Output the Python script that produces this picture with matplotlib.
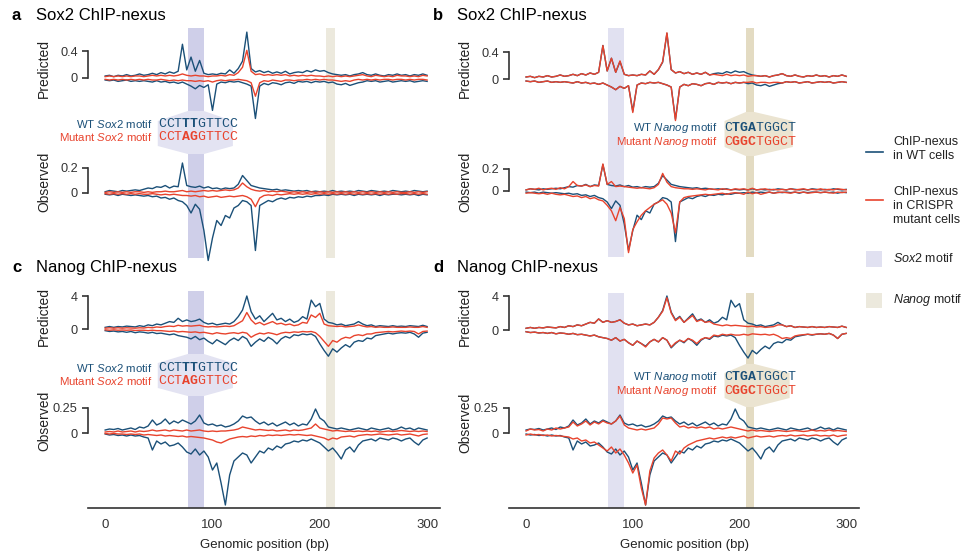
import numpy as np
import matplotlib.pyplot as plt
from matplotlib.patches import Polygon, Rectangle
from matplotlib.lines import Line2D

plt.rcParams['font.family'] = ['Liberation Sans', 'DejaVu Sans']
plt.rcParams['mathtext.fontset'] = 'custom'
plt.rcParams['mathtext.rm'] = 'Liberation Sans'
plt.rcParams['mathtext.it'] = 'Liberation Sans:italic'

##############
# data
##############

# genomic position grid (bp)
position = np.arange(0, 301, 4)

# Sox2 ChIP-nexus, predicted
sox2_pred_wt_pos = [
    0.03, 0.04, 0.02, 0.04, 0.03, 0.05, 0.03, 0.04, 0.06, 0.04,
    0.05, 0.07, 0.05, 0.08, 0.06, 0.09, 0.07, 0.10, 0.50, 0.12,
    0.31, 0.10, 0.26, 0.07, 0.05, 0.06, 0.05, 0.07, 0.06, 0.12,
    0.07, 0.14, 0.25, 0.68, 0.14, 0.09, 0.11, 0.08, 0.10, 0.07,
    0.09, 0.07, 0.10, 0.06, 0.08, 0.09, 0.08, 0.11, 0.09, 0.12,
    0.10, 0.11, 0.08, 0.06, 0.05, 0.04, 0.05, 0.03, 0.05, 0.06,
    0.08, 0.05, 0.04, 0.06, 0.04, 0.03, 0.05, 0.04, 0.06, 0.04,
    0.05, 0.03, 0.05, 0.04, 0.06, 0.04]
sox2_pred_wt_neg = [
    -0.03, -0.04, -0.03, -0.05, -0.04, -0.03, -0.05, -0.04, -0.05, -0.04,
    -0.05, -0.06, -0.04, -0.06, -0.05, -0.07, -0.06, -0.08, -0.06, -0.09,
    -0.12, -0.16, -0.11, -0.14, -0.10, -0.48, -0.09, -0.06, -0.07, -0.05,
    -0.06, -0.05, -0.07, -0.09, -0.12, -0.60, -0.12, -0.08, -0.10, -0.07,
    -0.08, -0.10, -0.07, -0.06, -0.08, -0.05, -0.06, -0.05, -0.07, -0.05,
    -0.06, -0.05, -0.07, -0.06, -0.09, -0.10, -0.08, -0.11, -0.09, -0.07,
    -0.06, -0.04, -0.05, -0.04, -0.06, -0.05, -0.04, -0.06, -0.05, -0.04,
    -0.05, -0.04, -0.06, -0.05, -0.04, -0.05]
sox2_pred_sox2mut_pos = [
    0.02, 0.03, 0.02, 0.03, 0.02, 0.03, 0.02, 0.03, 0.03, 0.02,
    0.03, 0.04, 0.03, 0.04, 0.03, 0.04, 0.03, 0.04, 0.06, 0.04,
    0.03, 0.04, 0.03, 0.03, 0.02, 0.03, 0.03, 0.04, 0.03, 0.05,
    0.04, 0.08, 0.16, 0.41, 0.10, 0.05, 0.06, 0.04, 0.05, 0.04,
    0.05, 0.04, 0.05, 0.03, 0.04, 0.03, 0.04, 0.03, 0.04, 0.03,
    0.03, 0.02, 0.03, 0.02, 0.03, 0.02, 0.03, 0.02, 0.03, 0.04,
    0.05, 0.03, 0.02, 0.04, 0.03, 0.02, 0.03, 0.02, 0.04, 0.03,
    0.03, 0.02, 0.03, 0.02, 0.04, 0.03]
sox2_pred_sox2mut_neg = [
    -0.02, -0.03, -0.02, -0.03, -0.02, -0.03, -0.02, -0.03, -0.02, -0.03,
    -0.02, -0.03, -0.03, -0.02, -0.03, -0.04, -0.03, -0.04, -0.03, -0.04,
    -0.04, -0.05, -0.04, -0.05, -0.04, -0.06, -0.04, -0.03, -0.04, -0.03,
    -0.03, -0.02, -0.03, -0.04, -0.07, -0.27, -0.07, -0.04, -0.05, -0.03,
    -0.04, -0.05, -0.03, -0.03, -0.04, -0.03, -0.03, -0.02, -0.03, -0.02,
    -0.03, -0.02, -0.03, -0.03, -0.04, -0.05, -0.04, -0.05, -0.03, -0.02,
    -0.03, -0.02, -0.03, -0.02, -0.03, -0.02, -0.02, -0.03, -0.02, -0.02,
    -0.03, -0.02, -0.03, -0.02, -0.02, -0.03]
sox2_pred_nanogmut_pos = [
    0.03, 0.04, 0.02, 0.04, 0.03, 0.05, 0.03, 0.04, 0.06, 0.04,
    0.05, 0.07, 0.05, 0.08, 0.06, 0.09, 0.07, 0.10, 0.50, 0.12,
    0.31, 0.10, 0.27, 0.07, 0.05, 0.06, 0.05, 0.07, 0.06, 0.12,
    0.07, 0.14, 0.26, 0.69, 0.14, 0.09, 0.11, 0.08, 0.10, 0.07,
    0.09, 0.07, 0.10, 0.06, 0.07, 0.06, 0.05, 0.07, 0.05, 0.06,
    0.05, 0.06, 0.04, 0.05, 0.05, 0.04, 0.05, 0.03, 0.05, 0.06,
    0.08, 0.05, 0.04, 0.06, 0.04, 0.03, 0.05, 0.04, 0.06, 0.04,
    0.05, 0.03, 0.05, 0.04, 0.06, 0.04]
sox2_pred_nanogmut_neg = [
    -0.03, -0.04, -0.03, -0.05, -0.04, -0.03, -0.05, -0.04, -0.05, -0.04,
    -0.05, -0.06, -0.04, -0.06, -0.05, -0.07, -0.06, -0.08, -0.06, -0.09,
    -0.12, -0.16, -0.11, -0.14, -0.10, -0.50, -0.09, -0.06, -0.07, -0.05,
    -0.06, -0.05, -0.07, -0.09, -0.12, -0.62, -0.12, -0.08, -0.10, -0.07,
    -0.08, -0.10, -0.07, -0.06, -0.08, -0.05, -0.06, -0.05, -0.07, -0.05,
    -0.06, -0.05, -0.05, -0.04, -0.06, -0.05, -0.05, -0.06, -0.05, -0.05,
    -0.06, -0.04, -0.05, -0.04, -0.06, -0.05, -0.04, -0.06, -0.05, -0.04,
    -0.05, -0.04, -0.06, -0.05, -0.04, -0.05]

# Sox2 ChIP-nexus, observed
sox2_obs_wt_pos = [
    0.01, 0.02, 0.015, 0.01, 0.02, 0.015, 0.02, 0.025, 0.02, 0.03,
    0.04, 0.035, 0.05, 0.045, 0.06, 0.04, 0.055, 0.05, 0.24, 0.06,
    0.05, 0.045, 0.055, 0.04, 0.05, 0.035, 0.04, 0.03, 0.04, 0.035,
    0.04, 0.07, 0.14, 0.10, 0.06, 0.05, 0.04, 0.035, 0.03, 0.025,
    0.03, 0.02, 0.025, 0.02, 0.015, 0.02, 0.015, 0.02, 0.01, 0.015,
    0.01, 0.015, 0.01, 0.02, 0.01, 0.015, 0.01, 0.015, 0.01, 0.02,
    0.015, 0.01, 0.02, 0.015, 0.01, 0.015, 0.01, 0.02, 0.015, 0.01,
    0.015, 0.01, 0.02, 0.015, 0.01, 0.015]
sox2_obs_wt_neg = [
    -0.01, -0.015, -0.01, -0.02, -0.01, -0.015, -0.02, -0.015, -0.02, -0.025,
    -0.02, -0.03, -0.025, -0.04, -0.035, -0.05, -0.04, -0.06, -0.07, -0.10,
    -0.16, -0.09, -0.13, -0.30, -0.54, -0.36, -0.22, -0.26, -0.18, -0.20,
    -0.12, -0.10, -0.06, -0.07, -0.10, -0.46, -0.10, -0.08, -0.06, -0.07,
    -0.05, -0.04, -0.05, -0.035, -0.04, -0.03, -0.035, -0.025, -0.03, -0.02,
    -0.02, -0.015, -0.02, -0.01, -0.015, -0.01, -0.015, -0.01, -0.02, -0.01,
    -0.015, -0.01, -0.015, -0.01, -0.02, -0.01, -0.015, -0.01, -0.01, -0.015,
    -0.01, -0.015, -0.01, -0.02, -0.01, -0.015]
sox2_obs_sox2mut_pos = [
    0.005, 0.01, 0.005, 0.01, 0.005, 0.01, 0.005, 0.01, 0.01, 0.005,
    0.01, 0.005, 0.01, 0.01, 0.015, 0.01, 0.01, 0.015, 0.02, 0.01,
    0.015, 0.01, 0.015, 0.02, 0.015, 0.02, 0.015, 0.02, 0.025, 0.02,
    0.025, 0.04, 0.08, 0.05, 0.03, 0.02, 0.015, 0.02, 0.01, 0.015,
    0.01, 0.015, 0.01, 0.005, 0.01, 0.005, 0.01, 0.005, 0.01, 0.005,
    0.01, 0.005, 0.01, 0.005, 0.01, 0.005, 0.01, 0.005, 0.01, 0.005,
    0.01, 0.005, 0.01, 0.005, 0.01, 0.005, 0.01, 0.005, 0.01, 0.005,
    0.005, 0.01, 0.005, 0.01, 0.005, 0.01]
sox2_obs_sox2mut_neg = [
    -0.005, -0.01, -0.005, -0.01, -0.005, -0.01, -0.005, -0.01, -0.005, -0.01,
    -0.01, -0.005, -0.01, -0.015, -0.01, -0.015, -0.01, -0.015, -0.02, -0.02,
    -0.025, -0.02, -0.03, -0.025, -0.035, -0.03, -0.025, -0.035, -0.03, -0.025,
    -0.03, -0.025, -0.02, -0.03, -0.05, -0.11, -0.04, -0.02, -0.015, -0.02,
    -0.01, -0.015, -0.01, -0.005, -0.01, -0.005, -0.01, -0.005, -0.01, -0.005,
    -0.01, -0.005, -0.01, -0.005, -0.01, -0.005, -0.01, -0.005, -0.01, -0.005,
    -0.01, -0.005, -0.01, -0.005, -0.01, -0.005, -0.01, -0.005, -0.01, -0.005,
    -0.005, -0.01, -0.005, -0.01, -0.005, -0.01]
sox2_obs_nanogmut_pos = [
    0.01, 0.02, 0.015, 0.025, 0.01, 0.02, 0.025, 0.015, 0.03, 0.02,
    0.04, 0.086, 0.05, 0.045, 0.055, 0.04, 0.05, 0.045, 0.246, 0.06,
    0.086, 0.04, 0.045, 0.04, 0.035, 0.03, 0.025, 0.03, 0.025, 0.02,
    0.03, 0.06, 0.16, 0.08, 0.04, 0.03, 0.025, 0.02, 0.02, 0.015,
    0.02, 0.015, 0.01, 0.02, 0.015, 0.01, 0.02, 0.015, 0.01, 0.02,
    0.015, 0.02, 0.01, 0.025, 0.01, 0.015, 0.02, 0.01, 0.015, 0.01,
    0.015, 0.01, 0.02, 0.01, 0.015, 0.02, 0.01, 0.015, 0.01, 0.02,
    0.01, 0.015, 0.01, 0.02, 0.015, 0.01]
sox2_obs_nanogmut_neg = [
    -0.02, -0.015, -0.02, -0.025, -0.02, -0.03, -0.02, -0.03, -0.035, -0.03,
    -0.04, -0.05, -0.045, -0.06, -0.05, -0.07, -0.06, -0.08, -0.09, -0.13,
    -0.18, -0.27, -0.15, -0.25, -0.56, -0.35, -0.28, -0.22, -0.18, -0.15,
    -0.12, -0.10, -0.08, -0.12, -0.20, -0.38, -0.10, -0.06, -0.05, -0.045,
    -0.04, -0.035, -0.03, -0.035, -0.03, -0.025, -0.02, -0.03, -0.02, -0.015,
    -0.02, -0.03, -0.01, -0.025, -0.015, -0.03, -0.02, -0.01, -0.02, -0.015,
    -0.01, -0.015, -0.02, -0.01, -0.015, -0.01, -0.02, -0.015, -0.01, -0.015,
    -0.01, -0.015, -0.02, -0.01, -0.015, -0.01]

# Nanog ChIP-nexus, predicted
nanog_pred_wt_pos = [
    0.2, 0.3, 0.2, 0.3, 0.25, 0.35, 0.3, 0.25, 0.4, 0.3,
    0.5, 0.4, 0.6, 0.5, 0.7, 0.9, 0.8, 1.3, 0.9, 1.1,
    0.9, 1.0, 1.2, 0.8, 0.6, 0.7, 0.5, 0.6, 0.7, 0.6,
    0.9, 1.5, 2.3, 4.0, 2.1, 1.2, 1.6, 0.9, 1.4, 1.9,
    1.1, 1.3, 0.9, 1.2, 0.8, 1.0, 1.5, 1.2, 3.5, 2.7,
    3.1, 1.2, 0.8, 0.7, 0.5, 0.6, 0.4, 0.5, 0.6, 0.9,
    0.6, 0.4, 0.5, 0.3, 0.4, 0.35, 0.3, 0.4, 0.3, 0.35,
    0.3, 0.4, 0.35, 0.3, 0.45, 0.3]
nanog_pred_wt_neg = [
    -0.2, -0.3, -0.25, -0.35, -0.3, -0.4, -0.3, -0.45, -0.35, -0.4,
    -0.5, -0.4, -0.55, -0.5, -0.6, -0.7, -0.6, -0.8, -0.9, -1.0,
    -1.2, -0.9, -1.3, -1.1, -1.5, -1.8, -1.3, -1.6, -1.9, -1.4,
    -1.1, -1.4, -0.9, -1.2, -2.1, -1.6, -1.2, -1.5, -1.0, -1.3,
    -1.8, -1.2, -0.9, -1.1, -0.7, -0.8, -0.6, -0.7, -0.6, -0.9,
    -1.8, -2.6, -3.3, -2.4, -2.8, -2.3, -1.9, -2.2, -1.6, -1.4,
    -1.5, -1.1, -1.2, -0.8, -0.7, -0.6, -0.5, -0.6, -0.5, -0.45,
    -0.5, -0.4, -0.6, -1.0, -0.5, -0.4]
nanog_pred_sox2mut_pos = [
    0.1, 0.15, 0.1, 0.15, 0.1, 0.15, 0.12, 0.1, 0.15, 0.12,
    0.2, 0.15, 0.25, 0.2, 0.3, 0.35, 0.3, 0.45, 0.35, 0.4,
    0.35, 0.4, 0.45, 0.3, 0.25, 0.3, 0.25, 0.3, 0.35, 0.3,
    0.4, 0.7, 1.0, 2.0, 1.1, 0.6, 0.8, 0.5, 0.7, 0.9,
    0.6, 0.7, 0.5, 0.6, 0.4, 0.5, 0.8, 0.7, 1.7, 1.4,
    1.9, 0.6, 0.4, 0.35, 0.3, 0.35, 0.25, 0.3, 0.35, 0.5,
    0.35, 0.25, 0.3, 0.2, 0.25, 0.2, 0.2, 0.25, 0.2, 0.2,
    0.2, 0.25, 0.2, 0.2, 0.3, 0.2]
nanog_pred_sox2mut_neg = [
    -0.1, -0.15, -0.1, -0.15, -0.12, -0.15, -0.12, -0.18, -0.15, -0.15,
    -0.2, -0.15, -0.2, -0.2, -0.25, -0.3, -0.25, -0.35, -0.3, -0.35,
    -0.4, -0.35, -0.45, -0.4, -0.5, -0.6, -0.45, -0.55, -0.6, -0.5,
    -0.45, -0.55, -0.4, -0.5, -1.0, -0.7, -0.5, -0.6, -0.45, -0.55,
    -0.7, -0.5, -0.4, -0.45, -0.35, -0.4, -0.3, -0.35, -0.3, -0.45,
    -0.9, -1.5, -2.1, -1.4, -1.6, -1.2, -1.0, -1.1, -0.8, -0.7,
    -0.8, -0.6, -0.6, -0.45, -0.4, -0.35, -0.3, -0.35, -0.3, -0.25,
    -0.3, -0.25, -0.3, -0.6, -0.3, -0.25]
nanog_pred_nanogmut_pos = [
    0.2, 0.3, 0.2, 0.3, 0.25, 0.35, 0.3, 0.25, 0.4, 0.3,
    0.5, 0.4, 0.6, 0.5, 0.7, 0.9, 0.8, 1.3, 0.9, 1.1,
    0.9, 1.0, 1.2, 0.8, 0.6, 0.7, 0.5, 0.6, 0.7, 0.6,
    0.9, 1.5, 2.2, 3.8, 2.0, 1.1, 1.5, 0.9, 1.3, 1.7,
    1.0, 1.2, 0.9, 1.0, 0.7, 0.6, 0.5, 0.6, 0.5, 0.55,
    0.5, 0.45, 0.4, 0.45, 0.35, 0.4, 0.3, 0.35, 0.4, 0.6,
    0.6, 0.4, 0.5, 0.3, 0.4, 0.35, 0.3, 0.4, 0.3, 0.35,
    0.3, 0.4, 0.35, 0.3, 0.45, 0.3]
nanog_pred_nanogmut_neg = [
    -0.2, -0.3, -0.25, -0.35, -0.3, -0.4, -0.3, -0.45, -0.35, -0.4,
    -0.5, -0.4, -0.55, -0.5, -0.6, -0.7, -0.6, -0.8, -0.9, -1.0,
    -1.2, -0.9, -1.3, -1.1, -1.5, -1.8, -1.3, -1.6, -2.0, -1.4,
    -1.1, -1.4, -0.9, -1.2, -2.0, -1.5, -1.2, -1.4, -1.0, -1.2,
    -1.6, -1.1, -0.9, -1.0, -0.6, -0.7, -0.5, -0.6, -0.5, -0.6,
    -0.6, -0.5, -0.6, -0.45, -0.5, -0.55, -0.5, -0.6, -0.5, -0.7,
    -1.0, -0.9, -1.0, -0.7, -0.6, -0.55, -0.5, -0.55, -0.5, -0.45,
    -0.5, -0.4, -0.6, -1.0, -0.5, -0.4]

# Nanog ChIP-nexus, observed
nanog_obs_wt_pos = [
    0.03, 0.04, 0.035, 0.045, 0.03, 0.04, 0.05, 0.035, 0.06, 0.05,
    0.07, 0.13, 0.08, 0.10, 0.14, 0.09, 0.12, 0.10, 0.13, 0.11,
    0.09, 0.12, 0.18, 0.10, 0.08, 0.09, 0.07, 0.08, 0.06, 0.07,
    0.09, 0.12, 0.17, 0.15, 0.16, 0.12, 0.09, 0.11, 0.08, 0.10,
    0.07, 0.09, 0.11, 0.08, 0.10, 0.07, 0.09, 0.08, 0.14, 0.24,
    0.15, 0.12, 0.06, 0.05, 0.04, 0.05, 0.04, 0.03, 0.04, 0.05,
    0.04, 0.03, 0.05, 0.04, 0.03, 0.04, 0.05, 0.03, 0.04, 0.06,
    0.04, 0.05, 0.03, 0.05, 0.04, 0.03]
nanog_obs_wt_neg = [
    -0.01, -0.02, -0.015, -0.025, -0.02, -0.03, -0.02, -0.03, -0.025, -0.04,
    -0.05, -0.17, -0.08, -0.11, -0.09, -0.13, -0.12, -0.10, -0.14, -0.19,
    -0.21, -0.16, -0.22, -0.18, -0.24, -0.37, -0.30, -0.50, -0.72, -0.42,
    -0.28, -0.24, -0.20, -0.22, -0.30, -0.24, -0.18, -0.20, -0.15, -0.17,
    -0.13, -0.15, -0.11, -0.10, -0.08, -0.09, -0.07, -0.08, -0.06, -0.08,
    -0.10, -0.14, -0.18, -0.15, -0.20, -0.26, -0.17, -0.14, -0.19, -0.12,
    -0.08, -0.07, -0.06, -0.08, -0.05, -0.06, -0.07, -0.05, -0.06, -0.08,
    -0.06, -0.05, -0.09, -0.12, -0.07, -0.05]
nanog_obs_sox2mut_pos = [
    0.01, 0.015, 0.01, 0.02, 0.01, 0.015, 0.02, 0.01, 0.02, 0.015,
    0.02, 0.03, 0.02, 0.025, 0.03, 0.02, 0.03, 0.025, 0.02, 0.03,
    0.02, 0.025, 0.03, 0.02, 0.015, 0.02, 0.015, 0.02, 0.02, 0.025,
    0.03, 0.04, 0.06, 0.05, 0.04, 0.03, 0.035, 0.03, 0.025, 0.03,
    0.02, 0.025, 0.03, 0.02, 0.03, 0.025, 0.03, 0.04, 0.05, 0.09,
    0.05, 0.04, 0.03, 0.02, 0.025, 0.02, 0.015, 0.02, 0.015, 0.02,
    0.015, 0.02, 0.015, 0.02, 0.01, 0.015, 0.02, 0.015, 0.02, 0.025,
    0.02, 0.015, 0.02, 0.015, 0.02, 0.015]
nanog_obs_sox2mut_neg = [
    -0.005, -0.01, -0.005, -0.01, -0.01, -0.015, -0.01, -0.015, -0.01, -0.02,
    -0.015, -0.02, -0.025, -0.02, -0.03, -0.025, -0.03, -0.035, -0.03, -0.04,
    -0.035, -0.04, -0.045, -0.05, -0.06, -0.07, -0.09, -0.10, -0.08, -0.06,
    -0.05, -0.04, -0.035, -0.04, -0.03, -0.035, -0.025, -0.03, -0.02, -0.025,
    -0.02, -0.025, -0.02, -0.015, -0.02, -0.015, -0.02, -0.025, -0.02, -0.03,
    -0.04, -0.05, -0.07, -0.05, -0.06, -0.04, -0.035, -0.03, -0.04, -0.025,
    -0.02, -0.015, -0.02, -0.015, -0.01, -0.015, -0.02, -0.015, -0.01, -0.02,
    -0.015, -0.01, -0.02, -0.03, -0.015, -0.01]
nanog_obs_nanogmut_pos = [
    0.02, 0.04, 0.03, 0.035, 0.02, 0.04, 0.03, 0.05, 0.04, 0.05,
    0.06, 0.11, 0.07, 0.09, 0.12, 0.08, 0.11, 0.09, 0.12, 0.10,
    0.09, 0.12, 0.17, 0.08, 0.05, 0.04, 0.03, 0.04, 0.03, 0.04,
    0.05, 0.09, 0.15, 0.14, 0.15, 0.10, 0.06, 0.07, 0.05, 0.06,
    0.05, 0.06, 0.05, 0.06, 0.04, 0.05, 0.04, 0.05, 0.06, 0.05,
    0.04, 0.03, 0.02, 0.03, 0.02, 0.025, 0.02, 0.015, 0.02, 0.025,
    0.02, 0.015, 0.02, 0.025, 0.02, 0.015, 0.02, 0.03, 0.02, 0.025,
    0.02, 0.03, 0.02, 0.025, 0.02, 0.015]
nanog_obs_nanogmut_neg = [
    -0.02, -0.01, -0.02, -0.015, -0.025, -0.02, -0.03, -0.025, -0.03, -0.035,
    -0.04, -0.06, -0.05, -0.08, -0.07, -0.10, -0.09, -0.12, -0.15, -0.18,
    -0.14, -0.20, -0.16, -0.22, -0.30, -0.40, -0.32, -0.55, -0.72, -0.38,
    -0.25, -0.20, -0.17, -0.22, -0.28, -0.18, -0.21, -0.15, -0.12, -0.10,
    -0.08, -0.07, -0.06, -0.05, -0.06, -0.05, -0.04, -0.05, -0.04, -0.05,
    -0.04, -0.03, -0.05, -0.04, -0.03, -0.04, -0.035, -0.03, -0.04, -0.03,
    -0.025, -0.03, -0.02, -0.03, -0.025, -0.02, -0.03, -0.025, -0.02, -0.03,
    -0.025, -0.03, -0.02, -0.035, -0.025, -0.02]

# motifs (bp)
sox2_motif = (77, 92)
nanog_motif = (206, 214)

# motif sequences: (text, bold positions)
sox2_wt_seq = ('CCTTTGTTCC', [3, 4])
sox2_mut_seq = ('CCTAGGTTCC', [3, 4])
nanog_wt_seq = ('CTGATGGCT', [1, 2, 3])
nanog_mut_seq = ('CGGCTGGCT', [1, 2, 3])

##############
# style
##############

BLUE = '#1b5078'
RED = '#e8432d'
AXC = '#333333'
SOX2_STRONG = '#cfcfe9'
SOX2_LIGHT = '#e1e1f1'
SOX2_HEX = '#e3e3f2'
NANOG_STRONG = '#e3dbc2'
NANOG_LIGHT = '#ece9dd'
NANOG_HEX = '#ebe4d1'

W, H = 969, 557
fig = plt.figure(figsize=(W / 100, H / 100), dpi=100)

COLS = [(88, 440), (509, 859)]
XLIM = (-16, 312)


def box(x0, y0, x1, y1):
    return [x0 / W, 1 - y1 / H, (x1 - x0) / W, (y1 - y0) / H]


def fx(px):
    return px / W


def fy(py):
    return 1 - py / H


def track(col, top, bot, zero, ppu, ticks, labels):
    x0, x1 = COLS[col]
    ax = fig.add_axes(box(x0, top, x1, bot))
    ax.set_xlim(*XLIM)
    ax.set_ylim((zero - bot) / ppu, (zero - top) / ppu)
    ax.patch.set_alpha(0)
    for s in ['top', 'right', 'bottom']:
        ax.spines[s].set_visible(False)
    ax.spines['left'].set_linewidth(1.2)
    ax.spines['left'].set_color(AXC)
    ax.spines['left'].set_bounds(ticks[0], ticks[-1])
    ax.set_yticks(ticks)
    ax.set_yticklabels(labels)
    ax.tick_params(axis='y', direction='out', length=4.3, width=1.2,
                   color=AXC, labelsize=9.2, labelcolor=AXC, pad=3)
    ax.set_xticks([])
    return ax


def draw_lines(ax, wt_pos, wt_neg, mut_pos, mut_neg):
    ax.plot(position, wt_pos, color=BLUE, lw=1.0, clip_on=False)
    ax.plot(position, wt_neg, color=BLUE, lw=1.0, clip_on=False)
    ax.plot(position, mut_pos, color=RED, lw=1.0, clip_on=False)
    ax.plot(position, mut_neg, color=RED, lw=1.0, clip_on=False)


def seq_text(px, py, seq, color):
    letters, bold = seq
    adv = 0.6 * 9.5 * 100 / 72
    for i, ch in enumerate(letters):
        fig.text(fx(px + i * adv), fy(py), ch, family='Liberation Mono',
                 fontsize=9.5, color=color, ha='left', va='center',
                 weight='bold' if i in bold else 'normal')


panels = [
    dict(letter='a', title='Sox2 ChIP-nexus', col=0, mutated='sox2',
         title_y=15, band=(28, 258),
         pred=(28, 125, 78, 67.5, [0, 0.4], ['0', '0.4']),
         obs=(150, 262, 193, 125, [0, 0.2], ['0', '0.2']),
         pred_data=(sox2_pred_wt_pos, sox2_pred_wt_neg,
                    sox2_pred_sox2mut_pos, sox2_pred_sox2mut_neg),
         obs_data=(sox2_obs_wt_pos, sox2_obs_wt_neg,
                   sox2_obs_sox2mut_pos, sox2_obs_sox2mut_neg),
         hexy=(111, 121, 146, 154), hexx=(49, 119), rows=(124, 137),
         label_x=153, seq_x=158, ylab=(68, 182)),
    dict(letter='b', title='Sox2 ChIP-nexus', col=1, mutated='nanog',
         title_y=15, band=(28, 257),
         pred=(28, 125, 79, 67, [0, 0.4], ['0', '0.4']),
         obs=(150, 262, 191, 110, [0, 0.2], ['0', '0.2']),
         pred_data=(sox2_pred_wt_pos, sox2_pred_wt_neg,
                    sox2_pred_nanogmut_pos, sox2_pred_nanogmut_neg),
         obs_data=(sox2_obs_wt_pos, sox2_obs_wt_neg,
                   sox2_obs_nanogmut_pos, sox2_obs_nanogmut_neg),
         hexy=(112, 121, 147, 156), hexx=(186, 250), rows=(128, 142),
         label_x=717, seq_x=724, ylab=(68, 182)),
    dict(letter='c', title='Nanog ChIP-nexus', col=0, mutated='sox2',
         title_y=267, band=(291, 508),
         pred=(288, 362, 329, 8.25, [0, 4], ['0', '4']),
         obs=(395, 508, 433, 100, [0, 0.25], ['0', '0.25']),
         pred_data=(nanog_pred_wt_pos, nanog_pred_wt_neg,
                    nanog_pred_sox2mut_pos, nanog_pred_sox2mut_neg),
         obs_data=(nanog_obs_wt_pos, nanog_obs_wt_neg,
                   nanog_obs_sox2mut_pos, nanog_obs_sox2mut_neg),
         hexy=(354, 363, 388, 396), hexx=(49, 119), rows=(368, 381),
         label_x=153, seq_x=158, ylab=(316, 421)),
    dict(letter='d', title='Nanog ChIP-nexus', col=1, mutated='nanog',
         title_y=267, band=(293, 508),
         pred=(288, 362, 330, 8.5, [0, 4], ['0', '4']),
         obs=(395, 508, 433, 100, [0, 0.25], ['0', '0.25']),
         pred_data=(nanog_pred_wt_pos, nanog_pred_wt_neg,
                    nanog_pred_nanogmut_pos, nanog_pred_nanogmut_neg),
         obs_data=(nanog_obs_wt_pos, nanog_obs_wt_neg,
                   nanog_obs_nanogmut_pos, nanog_obs_nanogmut_neg),
         hexy=(364, 373, 398, 407), hexx=(186, 247), rows=(377, 391),
         label_x=717, seq_x=724, ylab=(317, 423)),
]

for p in panels:
    x0, x1 = COLS[p['col']]
    sox2_mut = p['mutated'] == 'sox2'

    # motif bands + hexagon around the motif sequence
    bg = fig.add_axes(box(x0, p['band'][0], x1, p['band'][1]))
    bg.set_xlim(*XLIM)
    bg.set_ylim(p['band'][1], p['band'][0])
    bg.axis('off')
    bg.axvspan(*sox2_motif, color=SOX2_STRONG if sox2_mut else SOX2_LIGHT, lw=0)
    bg.axvspan(*nanog_motif, color=NANOG_LIGHT if sox2_mut else NANOG_STRONG, lw=0)
    ml, mr = sox2_motif if sox2_mut else nanog_motif
    hl, hr = p['hexx']
    y0, y1, y2, y3 = p['hexy']
    hexagon = Polygon([(ml, y0), (hl, y1), (hl, y2), (ml, y3),
                       (mr, y3), (hr, y2), (hr, y1), (mr, y0)],
                      closed=True, color=SOX2_HEX if sox2_mut else NANOG_HEX, lw=0)
    bg.add_patch(hexagon)

    # tracks
    ax_p = track(p['col'], *p['pred'])
    draw_lines(ax_p, *p['pred_data'])
    ax_o = track(p['col'], *p['obs'])
    draw_lines(ax_o, *p['obs_data'])

    if p['letter'] in ('c', 'd'):
        ax_o.spines['bottom'].set_visible(True)
        ax_o.spines['bottom'].set_linewidth(1.2)
        ax_o.spines['bottom'].set_color(AXC)
        ax_o.set_xticks([0, 100, 200, 300])
        ax_o.tick_params(axis='x', length=0, pad=8, labelsize=9.5, labelcolor=AXC)
        ax_o.set_xlabel('Genomic position (bp)', fontsize=9.5, color='#222222', labelpad=6)

    # titles and track labels
    fig.text(fx(x0 - 76), fy(p['title_y']), p['letter'], fontsize=12,
             weight='bold', va='center')
    fig.text(fx(x0 - 52), fy(p['title_y']), p['title'], fontsize=12, va='center')
    fig.text(fx(x0 - 44), fy(p['ylab'][0]), 'Predicted', rotation=90,
             fontsize=10, ha='center', va='center', color='#222222')
    fig.text(fx(x0 - 44), fy(p['ylab'][1]), 'Observed', rotation=90,
             fontsize=10, ha='center', va='center', color='#222222')

    # motif sequences
    name = 'Sox2' if sox2_mut else 'Nanog'
    wt_seq = sox2_wt_seq if sox2_mut else nanog_wt_seq
    mut_seq = sox2_mut_seq if sox2_mut else nanog_mut_seq
    fig.text(fx(p['label_x']), fy(p['rows'][0]), 'WT $\\mathit{%s}$ motif' % name,
             fontsize=8.2, color=BLUE, ha='right', va='center')
    fig.text(fx(p['label_x']), fy(p['rows'][1]), 'Mutant $\\mathit{%s}$ motif' % name,
             fontsize=8.2, color=RED, ha='right', va='center')
    seq_text(p['seq_x'], p['rows'][0], wt_seq, BLUE)
    seq_text(p['seq_x'], p['rows'][1], mut_seq, RED)

# legend
fig.add_artist(Line2D([fx(866), fx(883)], [fy(152), fy(152)], color=BLUE, lw=1.2))
fig.text(fx(893), fy(136), 'ChIP-nexus\nin WT cells', fontsize=9, va='top',
         color='#222222')
fig.add_artist(Line2D([fx(866), fx(883)], [fy(200), fy(200)], color=RED, lw=1.2))
fig.text(fx(893), fy(186), 'ChIP-nexus\nin CRISPR\nmutant cells', fontsize=9,
         va='top', color='#222222')
fig.add_artist(Rectangle((fx(866), fy(267)), 16 / W, 16 / H, color=SOX2_LIGHT, lw=0))
fig.text(fx(893), fy(259), '$\\mathit{Sox2}$ motif', fontsize=9, va='center',
         color='#222222')
fig.add_artist(Rectangle((fx(866), fy(308)), 16 / W, 15 / H, color=NANOG_LIGHT, lw=0))
fig.text(fx(893), fy(300), '$\\mathit{Nanog}$ motif', fontsize=9, va='center',
         color='#222222')

fig.savefig('out.png', dpi=100)
